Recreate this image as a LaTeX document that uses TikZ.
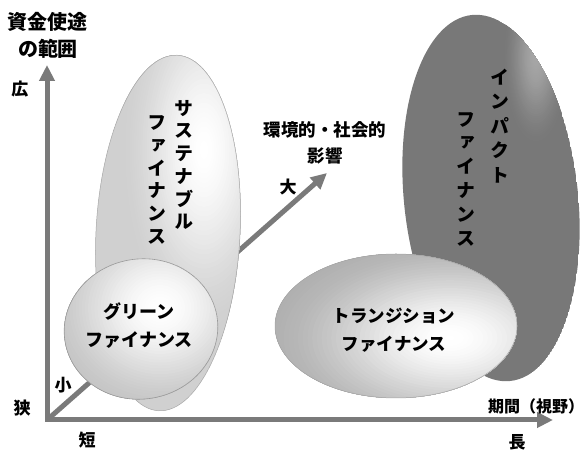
\documentclass[tikz,border=0pt]{standalone}
\usepackage{fontspec}
\usetikzlibrary{arrows.meta}
\newfontfamily\jp{Noto Sans CJK JP}
\newfontfamily\jpv{Noto Sans CJK JP}[RawFeature=+vert]
\definecolor{axisgray}{HTML}{7A7A7A}
\definecolor{susbase}{HTML}{D0D0D0}
\definecolor{greenedge}{HTML}{C2C2C2}
\definecolor{impbase}{HTML}{787878}
\definecolor{imphl}{HTML}{A6A6A6}
\definecolor{transbase}{HTML}{B0B0B0}
% #1,#2 centre; #3,#4 radii; #5 inner colour; #6 outer colour
\newcommand{\glowspot}[6]{%
  \foreach \gi in {0,...,40}{%
    \pgfmathsetmacro\gf{\gi/40}%
    \pgfmathsetmacro\gp{100*(3*\gf^2-2*\gf^3)}%
    \pgfmathsetmacro\grx{#3*(1-\gf)+0.05}%
    \pgfmathsetmacro\gry{#4*(1-\gf)+0.05}%
    \fill[#5!\gp!#6] (#1,#2) ellipse [x radius=\grx pt, y radius=\gry pt];
  }}
\begin{document}
\begin{tikzpicture}[x=1pt,y=1pt,
  >={Triangle[length=16pt,width=15pt]},
  axisline/.style={line width=5pt, draw=axisgray, line join=miter},
  lab/.style={inner sep=0pt, font=\jp\bfseries\fontsize{17}{17}\selectfont},
  biglab/.style={inner sep=0pt, font=\jp\bfseries\fontsize{20}{27}\selectfont, align=center},
  vlab/.style={inner sep=0pt, align=center},
  hlab/.style={inner sep=0pt, align=center}]
\useasboundingbox (0,0) rectangle (587,450);
% axes
\coordinate (O) at (47,30);
\coordinate (Ytip) at (47,385);
\coordinate (Xtip) at (553,30);
\coordinate (Dtip) at (327,277);
\draw[axisline, ->] (O) -- (Dtip);
\draw[axisline, <->] (Ytip) -- (O) -- (Xtip);
% sustainable
\begin{scope}
\clip (168,217) ellipse [x radius=72pt, y radius=178pt, rotate=-3];
\fill[susbase] (168,217) ellipse [x radius=72pt, y radius=178pt, rotate=-3];
\glowspot{204}{300}{85}{190}{white}{susbase}
\end{scope}
\draw[gray!70, line width=0.5pt] (168,217) ellipse [x radius=72pt, y radius=178pt, rotate=-3];
% green
\begin{scope}
\clip (141,121) ellipse [x radius=77pt, y radius=70pt, rotate=10];
\fill[greenedge] (141,121) ellipse [x radius=77pt, y radius=70pt, rotate=10];
\glowspot{160}{142}{125}{115}{white}{greenedge}
\end{scope}
\draw[gray!80, line width=0.6pt] (141,121) ellipse [x radius=77pt, y radius=70pt, rotate=10];
% impact
\begin{scope}
\clip (491,252) ellipse [x radius=87pt, y radius=184pt, rotate=6];
\fill[impbase] (491,252) ellipse [x radius=87pt, y radius=184pt, rotate=6];
\glowspot{536}{392}{34}{90}{imphl}{impbase}
\end{scope}
% transition
\begin{scope}
\clip (396,124) ellipse [x radius=121pt, y radius=72pt];
\fill[transbase] (396,124) ellipse [x radius=121pt, y radius=72pt];
\glowspot{450}{112}{190}{105}{white}{transbase}
\end{scope}
\draw[gray!70, line width=0.5pt] (396,124) ellipse [x radius=121pt, y radius=72pt];
% axis labels
\node[biglab] (ytitle) at (48,415) {資金使途\\の範囲};
\node[lab] (wide) at (20,361) {広};
\node[lab] (narrow) at (22,42) {狭};
\node[lab] (short) at (87,10) {短};
\node[lab] (long) at (517,8) {長};
\node[lab, font=\jp\bfseries\fontsize{16}{16}\selectfont] (xtitle) at (536,44) {期間（視野）};
\node[lab] (small) at (63,65) {小};
\node[lab] (big) at (288,263) {大};
\node[hlab, font=\jp\bfseries\fontsize{17.5}{26}\selectfont] (dtitle) at (325,307) {環境的・社会的\\影響};
% ellipse labels
\node[vlab, font=\jpv\bfseries\fontsize{19}{22.7}\selectfont] (sus1) at (184,285) {サ\\ス\\テ\\ナ\\ブ\\ル};
\node[vlab, font=\jpv\bfseries\fontsize{19}{22.8}\selectfont] (sus2) at (157,270) {フ\\ァ\\イ\\ナ\\ン\\ス};
\node[vlab, font=\jpv\bfseries\fontsize{19}{24.4}\selectfont] (imp1) at (500,324) {イ\\ン\\パ\\ク\\ト};
\node[vlab, font=\jpv\bfseries\fontsize{19}{23.8}\selectfont] (imp2) at (466,271) {フ\\ァ\\イ\\ナ\\ン\\ス};
\node[hlab, font=\jp\bfseries\fontsize{18}{28}\selectfont] (green) at (139,124) {グリーン\\ファイナンス};
\node[hlab, font=\jp\bfseries\fontsize{17.5}{28}\selectfont] (trans) at (394,120) {トランジション\\ファイナンス};
\end{tikzpicture}
\end{document}
